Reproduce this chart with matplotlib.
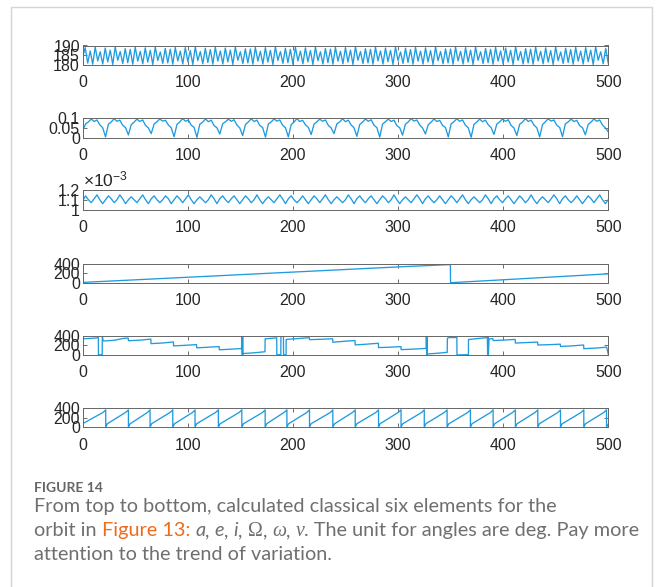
import numpy as np
import matplotlib
matplotlib.use("Agg")
import matplotlib.pyplot as plt
from matplotlib.patches import Rectangle

# ---- data ----
# a (semi-major axis), peaks and troughs on an even grid over 0..500
a_vals = [184.0,
    188.9, 181.0, 187.2, 180.4, 189.2, 182.1, 186.8, 180.5, 188.7, 181.6,
    187.6, 180.3, 189.3, 182.4, 186.9, 180.7, 188.4, 181.2, 188.0, 180.4,
    189.1, 182.0, 187.0, 180.6, 188.8, 181.5, 187.5, 180.3, 189.2, 182.3,
    186.7, 180.8, 188.5, 181.1, 188.1, 180.4, 189.0, 182.1, 187.1, 180.5,
    188.9, 181.7, 187.4, 180.3, 189.3, 182.2, 186.9, 180.6, 188.6, 181.3,
    187.9, 180.4, 189.1, 182.0, 187.2, 180.5, 188.7, 181.6, 187.6, 180.3,
    189.2, 182.4, 186.8, 180.7, 188.3, 181.1, 188.2, 180.4, 189.0, 182.0,
    187.0, 180.5, 188.9, 181.5, 187.5, 180.3, 189.3, 182.3, 186.9, 180.8,
    188.6, 181.2, 188.0, 180.4, 189.1, 182.1, 187.1, 180.6, 188.8, 181.6,
    187.4, 180.3, 189.2, 182.2, 186.8, 180.5, 188.5, 181.2, 188.1, 180.4,
    189.0, 182.0, 187.0, 180.6, 188.9, 181.5, 187.6, 180.3, 189.3, 182.4,
    186.9, 180.7, 188.4, 181.1, 188.0, 180.4, 189.1, 182.1, 187.2, 180.5,
    188.7, 181.7, 187.5, 180.3, 189.2, 182.3, 186.7, 180.8, 188.6, 181.3,
    187.9, 180.4, 189.0, 182.0, 187.1, 180.5, 188.8, 181.6, 187.4, 180.3,
    189.3, 182.2, 186.9, 180.6, 188.3, 181.1, 188.2, 180.4, 189.1, 182.1,
    187.0, 180.5, 188.9, 181.5, 187.6, 180.3, 189.2, 182.4, 186.8, 180.7,
    188.5, 181.2, 188.0, 180.4, 189.0, 182.0, 187.2, 180.6, 188.7, 181.6,
    187.5, 180.3, 189.3, 182.3, 186.9, 180.5, 188.4, 181.1, 188.1, 180.4,
    189.1, 182.1, 187.0, 180.6, 188.8, 181.5, 187.4, 180.3, 189.2, 182.2,
    186.7, 180.8, 188.6, 181.3, 187.9, 180.4, 189.0, 182.0, 187.1, 180.5,
    188.9, 181.7, 187.6, 180.3, 189.3, 182.4, 186.8, 180.6, 188.5, 181.0]

# e (eccentricity), 8 samples per orbit
e_vals = [0.035, 0.070, 0.080, 0.095, 0.082, 0.090, 0.065, 0.050,
    0.003, 0.068, 0.080, 0.096, 0.083, 0.089, 0.063, 0.051,
    0.013, 0.066, 0.079, 0.094, 0.082, 0.090, 0.062, 0.049,
    0.020, 0.069, 0.081, 0.095, 0.084, 0.088, 0.064, 0.050,
    0.004, 0.067, 0.080, 0.097, 0.083, 0.090, 0.063, 0.052,
    0.001, 0.068, 0.079, 0.095, 0.081, 0.089, 0.061, 0.050,
    0.018, 0.070, 0.081, 0.094, 0.083, 0.091, 0.064, 0.049,
    0.010, 0.067, 0.080, 0.096, 0.082, 0.089, 0.062, 0.051,
    0.002, 0.069, 0.080, 0.095, 0.084, 0.090, 0.063, 0.050,
    0.003, 0.066, 0.079, 0.097, 0.082, 0.088, 0.065, 0.052,
    0.015, 0.068, 0.081, 0.094, 0.083, 0.090, 0.062, 0.049,
    0.020, 0.070, 0.080, 0.096, 0.081, 0.089, 0.064, 0.050,
    0.006, 0.067, 0.079, 0.095, 0.083, 0.091, 0.063, 0.051,
    0.002, 0.069, 0.081, 0.094, 0.082, 0.089, 0.061, 0.050,
    0.012, 0.068, 0.080, 0.097, 0.084, 0.090, 0.064, 0.049,
    0.018, 0.066, 0.079, 0.095, 0.082, 0.088, 0.062, 0.052,
    0.003, 0.070, 0.081, 0.096, 0.083, 0.090, 0.063, 0.050,
    0.001, 0.067, 0.080, 0.094, 0.081, 0.089, 0.065, 0.051,
    0.016, 0.069, 0.080, 0.095, 0.083, 0.091, 0.062, 0.049,
    0.010, 0.068, 0.079, 0.097, 0.082, 0.089, 0.064, 0.050,
    0.003, 0.066, 0.081, 0.096, 0.084, 0.090, 0.063, 0.052,
    0.004, 0.070, 0.080, 0.094, 0.082, 0.088, 0.061, 0.050,
    0.014, 0.067, 0.079, 0.095, 0.083, 0.090, 0.064, 0.049,
    0.030]

# i (inclination, x1e-3), 4 samples per half orbit
inc_vals = [1.09,
    1.14, 1.10, 1.07, 1.11, 1.15, 1.10, 1.06, 1.10,
    1.14, 1.11, 1.07, 1.10, 1.15, 1.11, 1.06, 1.10,
    1.13, 1.10, 1.07, 1.11, 1.15, 1.10, 1.06, 1.11,
    1.14, 1.10, 1.07, 1.10, 1.14, 1.11, 1.06, 1.10,
    1.14, 1.11, 1.07, 1.11, 1.15, 1.10, 1.06, 1.10,
    1.13, 1.10, 1.07, 1.10, 1.15, 1.11, 1.06, 1.11,
    1.14, 1.10, 1.07, 1.11, 1.14, 1.10, 1.06, 1.10,
    1.14, 1.11, 1.07, 1.10, 1.15, 1.10, 1.06, 1.10,
    1.13, 1.10, 1.07, 1.11, 1.15, 1.11, 1.06, 1.11,
    1.14, 1.10, 1.07, 1.10, 1.14, 1.10, 1.06, 1.10,
    1.14, 1.11, 1.07, 1.11, 1.15, 1.10, 1.06, 1.10,
    1.13, 1.10, 1.07, 1.10, 1.15, 1.11, 1.06, 1.11,
    1.14, 1.10, 1.07, 1.11, 1.14, 1.10, 1.06, 1.10,
    1.14, 1.11, 1.07, 1.10, 1.15, 1.10, 1.06, 1.10,
    1.13, 1.10, 1.07, 1.11, 1.15, 1.11, 1.06, 1.11,
    1.14, 1.10, 1.07, 1.10, 1.14, 1.10, 1.06, 1.10,
    1.14, 1.11, 1.07, 1.11, 1.15, 1.10, 1.06, 1.10,
    1.13, 1.10, 1.07, 1.10, 1.15, 1.11, 1.06, 1.11,
    1.14, 1.10, 1.07, 1.11, 1.14, 1.10, 1.06, 1.10,
    1.14, 1.11, 1.07, 1.10, 1.15, 1.10, 1.06, 1.10,
    1.13, 1.10, 1.07, 1.11, 1.15, 1.11, 1.06, 1.11,
    1.14, 1.10, 1.07, 1.10, 1.14, 1.10, 1.06, 1.10,
    1.14, 1.11, 1.07, 1.11, 1.15, 1.10, 1.06, 1.10]

# Omega (RAAN, deg)
raan_t = [0, 100, 200, 300, 349.8, 350.0, 400, 500]
raan_v = [12, 118, 224, 330, 378, 6, 66, 188]

# omega (argument of perigee, deg)
argp_t = [0, 7, 13.3, 14.9, 15.0, 18.5, 18.7, 19.6, 30, 38.7, 43.3, 43.5,
    55, 64.8, 65.0, 76, 86.3, 86.5, 97, 108.3, 108.5, 118, 129.8, 130.0,
    140, 151.3, 151.5, 151.8, 152.2, 152.6, 153.0, 163, 173.4, 173.6, 180,
    184.6, 184.7, 188.5, 188.6, 191.0, 191.1, 193.5, 193.6, 205, 215.6,
    215.8, 226, 237.8, 238.0, 248, 259.1, 259.3, 270, 281.3, 281.5, 292,
    302.8, 303.0, 314, 326.8, 327.0, 327.3, 327.6, 327.9, 337, 346.8, 347.0,
    349.0, 356.0, 356.1, 367.0, 367.1, 376, 385.0, 385.3, 385.6, 386.0,
    386.6, 390.3, 390.5, 400, 411.5, 411.7, 422, 432.8, 433.0, 444, 454.4,
    454.6, 466, 476.6, 476.8, 488, 498.6, 500]
argp_v = [333, 340, 350, 356, 3, 6, 385, 288, 302, 340, 348, 293,
    305, 327, 233, 246, 268, 187, 198, 213, 147, 158, 173, 107,
    118, 133, 395, 8, 390, 15, 30, 45, 67, 333, 343,
    353, 3, 8, 395, 392, 2, 5, 320, 337, 355,
    315, 322, 333, 262, 280, 297, 207, 222, 241, 152, 160,
    172, 110, 120, 135, 395, 5, 390, 21, 35, 55, 345,
    358, 358, 2, 7, 317, 338, 358, 2, 395, 5,
    331, 335, 297, 305, 320, 245, 255, 265, 205, 212, 222,
    175, 188, 205, 130, 142, 160, 20]

# nu (true anomaly, deg)
nu_t = [0, 19.4, 21.9, 21.9, 23.4, 41.0, 43.5, 43.5, 45.0, 61.6, 64.1, 64.1,
    65.6, 83.2, 85.7, 85.7, 87.2, 104.4, 106.9, 106.9, 108.4, 126.6, 129.1,
    129.1, 130.6, 148.9, 151.4, 151.4, 152.9, 171.1, 173.6, 173.6, 175.1,
    191.8, 194.3, 194.3, 195.8, 213.3, 215.8, 215.8, 217.3, 235.5, 238.0,
    238.0, 239.5, 256.8, 259.3, 259.3, 260.8, 279.0, 281.5, 281.5, 283.0,
    300.4, 302.9, 302.9, 304.4, 322.5, 325.0, 325.0, 326.5, 344.2, 346.7,
    346.7, 348.2, 366.4, 368.9, 368.9, 370.4, 388.0, 390.5, 390.5, 392.0,
    409.2, 411.7, 411.7, 413.2, 430.5, 433.0, 433.0, 434.5, 452.1, 454.6,
    454.6, 456.1, 474.3, 476.8, 476.8, 478.3, 495.9, 498.4, 498.4, 500]
nu_v = [75, 305, 358, 2, 72, 308, 357, 3, 70, 304, 359, 2,
    74, 306, 358, 1, 71, 303, 356, 2, 73, 307, 358,
    3, 70, 305, 359, 2, 72, 304, 357, 2, 74,
    308, 358, 1, 71, 305, 359, 2, 73, 303, 357,
    3, 70, 306, 358, 2, 72, 305, 356, 1, 74,
    307, 358, 2, 71, 304, 359, 3, 73, 306, 357,
    2, 70, 305, 358, 2, 72, 303, 359, 1, 74,
    307, 357, 2, 71, 305, 358, 3, 73, 304, 356,
    2, 70, 306, 358, 2, 72, 305, 359, 2, 62]

x_ticks = [0, 100, 200, 300, 400, 500]

# ---- figure ----
W, H = 656, 587
fig = plt.figure(figsize=(W / 100, H / 100), dpi=100)
fig.patch.set_facecolor("white")

line_col = "#1f9be0"
tick_font = ["Liberation Sans", "DejaVu Sans"]
tick_size = 11.5
plt.rcParams["mathtext.fontset"] = "custom"
plt.rcParams["mathtext.rm"] = "Liberation Sans"
plt.rcParams["mathtext.it"] = "Liberation Sans:italic"

# outer frame of the figure panel
fig.patches.append(Rectangle((11 / W, -0.05), 641 / W, 1 - 7 / H + 0.05,
                             transform=fig.transFigure, fill=False,
                             edgecolor="#d4d4d4", linewidth=1.0))

left, width = 82.7 / W, 525.5 / W
bottoms_px = [65, 137.5, 209.5, 283.0, 355.0, 427.3]
h_px = 19.5

grid_a = np.linspace(0, 500, len(a_vals))
grid_e = np.linspace(0, 500, len(e_vals))
grid_i = np.linspace(0, 500, len(inc_vals))

series = [
    (grid_a, a_vals, (180, 190), [180, 185, 190], ["180", "185", "190"]),
    (grid_e, e_vals, (0, 0.1), [0, 0.05, 0.1], ["0", "0.05", "0.1"]),
    (grid_i, np.array(inc_vals) * 1e-3, (1.0e-3, 1.2e-3),
     [1.0e-3, 1.1e-3, 1.2e-3], ["1", "1.1", "1.2"]),
    (raan_t, raan_v, (0, 400), [0, 200, 400], ["0", "200", "400"]),
    (argp_t, argp_v, (0, 400), [0, 200, 400], ["0", "200", "400"]),
    (nu_t, nu_v, (0, 400), [0, 200, 400], ["0", "200", "400"]),
]

for k, (xs, ys, ylim, yt, ytl) in enumerate(series):
    ax = fig.add_axes([left, 1 - bottoms_px[k] / H, width, h_px / H])
    ax.plot(xs, ys, color=line_col, linewidth=0.95)
    ax.set_xlim(0, 500)
    ax.set_ylim(*ylim)
    ax.set_xticks(x_ticks)
    ax.set_xticklabels([str(v) for v in x_ticks])
    ax.set_yticks(yt)
    ax.set_yticklabels(ytl)
    ax.tick_params(axis="both", direction="in", length=3, width=0.6,
                   color="#555555", labelcolor="#262626", labelsize=tick_size,
                   top=True, right=True)
    ax.tick_params(axis="x", pad=7.5)
    ax.tick_params(axis="y", pad=2.0)
    for lab in ax.get_xticklabels() + ax.get_yticklabels():
        lab.set_family(tick_font)
    for sp in ax.spines.values():
        sp.set_color("#666666")
        sp.set_linewidth(0.7)
    if k == 2:
        ax.text(0.0, 1.0, r"$\times10^{-3}$", transform=ax.transAxes,
                ha="left", va="bottom", fontsize=12.5, color="#262626")

# ---- caption ----
cap_col = "#6f6f6f"
link_col = "#ec6b1c"
cap_font = ["Lato", "DejaVu Sans"]
cap_size = 14.3
renderer = fig.canvas.get_renderer()


def put_pieces(x_px, y_px, pieces):
    x = x_px
    for txt, kw in pieces:
        t = fig.text(x / W, 1 - y_px / H, txt, va="baseline", ha="left", **kw)
        bb = t.get_window_extent(renderer=renderer)
        x += bb.width


base = dict(color=cap_col, fontsize=cap_size, family=cap_font)
ital = dict(color=cap_col, fontsize=cap_size, family=cap_font, style="italic")
serif = dict(color=cap_col, fontsize=cap_size, family=["Liberation Serif", "DejaVu Serif"])
serif_it = dict(color=cap_col, fontsize=cap_size, family=["Liberation Serif", "DejaVu Serif"], style="italic")
link = dict(color=link_col, fontsize=cap_size, family=cap_font)

fig.text(34 / W, 1 - 492 / H, "FIGURE 14", va="baseline", ha="left",
         color="#666666", fontsize=10, family=cap_font, fontweight="bold")
put_pieces(34, 512, [("From top to bottom, calculated classical six elements for the", base)])
put_pieces(34, 536, [
    ("orbit in ", base), ("Figure 13:", link), (" ", base),
    ("a", ital), (", ", base), ("e", ital), (", ", base), ("i", ital), (", ", base),
    ("Ω", serif), (", ", base), ("ω", serif_it), (", ", base), ("ν", serif_it),
    (". The unit for angles are deg. Pay more", base)])
put_pieces(34, 560, [("attention to the trend of variation.", base)])

fig.savefig("out.png", dpi=100)
